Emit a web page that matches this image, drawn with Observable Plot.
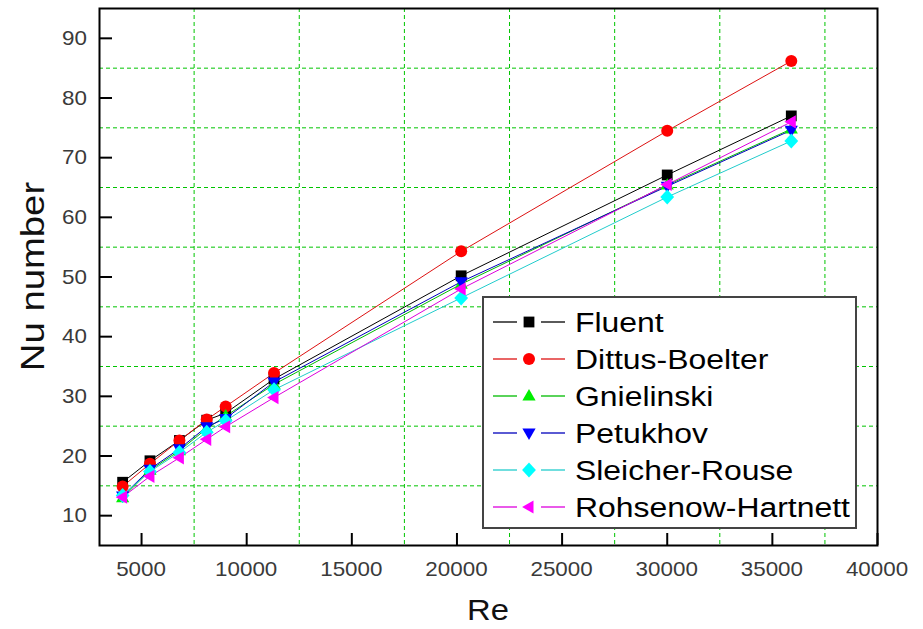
<!DOCTYPE html>
<html>
<head>
<meta charset="utf-8">
<script src="https://cdn.jsdelivr.net/npm/d3@7"></script>
<script src="https://cdn.jsdelivr.net/npm/@observablehq/plot@0.6"></script>
<style>
  html, body { margin: 0; padding: 0; background: #fff; }
  #chart { width: 923px; height: 629px; }
</style>
</head>
<body>
<div id="chart"></div>
<script>
// Reynolds numbers of the test cases
const reynolds = [4100, 5400, 6800, 8100, 9000, 11300, 20200, 30000, 35900];

// Nusselt numbers: CFD result and empirical correlations
const fluent           = [15.6, 19.2, 22.6, 26.0, 27.2, 32.9, 50.2, 67.1, 77.0];
const dittusBoelter    = [14.9, 18.7, 22.6, 26.1, 28.3, 33.9, 54.3, 74.5, 86.2];
const gnielinski       = [13.0, 17.6, 20.9, 24.6, 26.7, 32.0, 48.8, 65.4, 74.8];
const petukhov         = [13.3, 17.8, 21.2, 24.9, 26.3, 32.4, 49.2, 65.2, 74.6];
const sleicherRouse    = [13.4, 17.4, 20.6, 24.0, 25.9, 31.1, 46.5, 63.4, 72.8];
const rohsenowHartnett = [13.1, 16.6, 19.7, 22.8, 24.9, 29.8, 48.0, 65.5, 76.0];

const seriesNames = ["Fluent", "Dittus-Boelter", "Gnielinski", "Petukhov", "Sleicher-Rouse", "Rohsenow-Hartnett"];
const seriesValues = [fluent, dittusBoelter, gnielinski, petukhov, sleicherRouse, rohsenowHartnett];

// Axis ticks and dashed grid positions
const xTicks = [5000, 10000, 15000, 20000, 25000, 30000, 35000, 40000];
const yTicks = [10, 20, 30, 40, 50, 60, 70, 80, 90];
const xGrid = [7500, 12500, 17500, 22500, 27500, 32500, 37500];
const yGrid = [15, 25, 35, 45, 55, 65, 75, 85];
const xTitle = "Re";
const yTitle = "Nu number";

// Styling
const markerColors = ["#000000", "#ff0000", "#00ee00", "#0000ff", "#00ffff", "#ff00ff"];
const lineColors   = ["#000000", "#dd1111", "#00bb00", "#0000bb", "#22cccc", "#dd00dd"];

// Marker shapes scaled from the symbol size
const polygon = (pts) => ({
  draw(ctx, size) {
    const r = Math.sqrt(size / Math.PI);
    ctx.moveTo(pts[0][0] * r, pts[0][1] * r);
    for (let i = 1; i < pts.length; ++i) ctx.lineTo(pts[i][0] * r, pts[i][1] * r);
    ctx.closePath();
  }
});
const square  = polygon([[-0.9, -0.9], [0.9, -0.9], [0.9, 0.9], [-0.9, 0.9]]);
const circle  = {draw(ctx, size) { const r = Math.sqrt(size / Math.PI); ctx.moveTo(r, 0); ctx.arc(0, 0, r, 0, 2 * Math.PI); }};
const triUp   = polygon([[0, -1.15], [1.1, 0.75], [-1.1, 0.75]]);
const triDown = polygon([[0, 1.15], [1.1, -0.75], [-1.1, -0.75]]);
const diamond = polygon([[0, -1.25], [1.15, 0], [0, 1.25], [-1.15, 0]]);
const triLeft = polygon([[-1.15, 0], [0.75, -1.1], [0.75, 1.1]]);
const symbols = [square, circle, triUp, triDown, diamond, triLeft];
const markerR = 6;

const W = 923, H = 629;
const margin = {top: 8, right: 46, bottom: 84, left: 99};
const innerW = W - margin.left - margin.right;
const innerH = H - margin.top - margin.bottom;
const font = "'Liberation Sans', Arial, Helvetica, sans-serif";

const lineMarks = seriesNames.map((name, s) =>
  Plot.line(reynolds, {x: (d) => d, y: (d, i) => seriesValues[s][i], stroke: lineColors[s], strokeWidth: 1})
);
const dotMarks = seriesNames.map((name, s) =>
  Plot.dot(reynolds, {x: (d) => d, y: (d, i) => seriesValues[s][i], fill: markerColors[s], stroke: "none", r: markerR, symbol: symbols[s]})
);

const svg = Plot.plot({
  width: W,
  height: H,
  marginTop: margin.top,
  marginRight: margin.right,
  marginBottom: margin.bottom,
  marginLeft: margin.left,
  style: {fontFamily: font, background: "#fff", overflow: "visible"},
  x: {domain: [3000, 40000], axis: null},
  y: {domain: [5, 95], axis: null},
  marks: [
    Plot.gridX(xGrid, {stroke: "#00c400", strokeOpacity: 1, strokeWidth: 1, strokeDasharray: "4,3"}),
    Plot.gridY(yGrid, {stroke: "#00c400", strokeOpacity: 1, strokeWidth: 1, strokeDasharray: "4,3"}),
    ...lineMarks,
    ...dotMarks,
    // inward tick marks
    Plot.ruleX(xTicks, {stroke: "#000", strokeWidth: 2, insetTop: innerH - 12}),
    Plot.ruleY(yTicks, {stroke: "#000", strokeWidth: 2, insetRight: innerW - 13}),
    Plot.frame({stroke: "#000", strokeWidth: 2})
  ]
});

document.getElementById("chart").appendChild(svg);

const root = d3.select(svg);
const sx = svg.scale("x"), sy = svg.scale("y");

// Tick labels, placed with the plot's scales and widened slightly
const xLab = root.append("g").attr("fill", "#3a3a3a").attr("font-family", font).attr("font-size", 20).attr("text-anchor", "middle");
xTicks.forEach((v) => {
  xLab.append("text")
    .attr("transform", `translate(${sx.apply(v)},${H - margin.bottom + 31}) scale(1.12,1)`)
    .text(String(v));
});
const yLab = root.append("g").attr("fill", "#3a3a3a").attr("font-family", font).attr("font-size", 20).attr("text-anchor", "end");
yTicks.forEach((v) => {
  yLab.append("text")
    .attr("transform", `translate(${margin.left - 12},${sy.apply(v) + 7}) scale(1.12,1)`)
    .text(String(v));
});

// Axis titles
root.append("text")
  .attr("transform", `translate(${margin.left + innerW / 2},620) scale(1.13,1)`)
  .attr("text-anchor", "middle")
  .attr("font-family", font)
  .attr("font-size", 29)
  .attr("fill", "#111")
  .text(xTitle);
root.append("text")
  .attr("transform", `translate(44,${margin.top + innerH / 2}) rotate(-90) scale(1.16,1)`)
  .attr("text-anchor", "middle")
  .attr("font-family", font)
  .attr("font-size", 33)
  .attr("fill", "#111")
  .text(yTitle);

// Legend box inside the plot area
const lg = root.append("g").attr("transform", "translate(483,297)");
lg.append("rect")
  .attr("width", 373).attr("height", 231)
  .attr("fill", "#fff").attr("stroke", "#444").attr("stroke-width", 2);
seriesNames.forEach((name, s) => {
  const cy = 25 + s * 37;
  const row = lg.append("g").attr("transform", `translate(0,${cy})`);
  row.append("line").attr("x1", 10).attr("x2", 34).attr("y1", 0).attr("y2", 0)
    .attr("stroke", lineColors[s]).attr("stroke-width", 1.3);
  row.append("line").attr("x1", 58).attr("x2", 82).attr("y1", 0).attr("y2", 0)
    .attr("stroke", lineColors[s]).attr("stroke-width", 1.3);
  row.append("path")
    .attr("transform", "translate(46,0)")
    .attr("d", d3.symbol(symbols[s], Math.PI * markerR * markerR)())
    .attr("fill", markerColors[s]);
  row.append("text")
    .attr("transform", "translate(92,10) scale(1.14,1)")
    .attr("text-anchor", "start")
    .attr("font-family", font)
    .attr("font-size", 28)
    .attr("fill", "#000")
    .text(name);
});
</script>
</body>
</html>
